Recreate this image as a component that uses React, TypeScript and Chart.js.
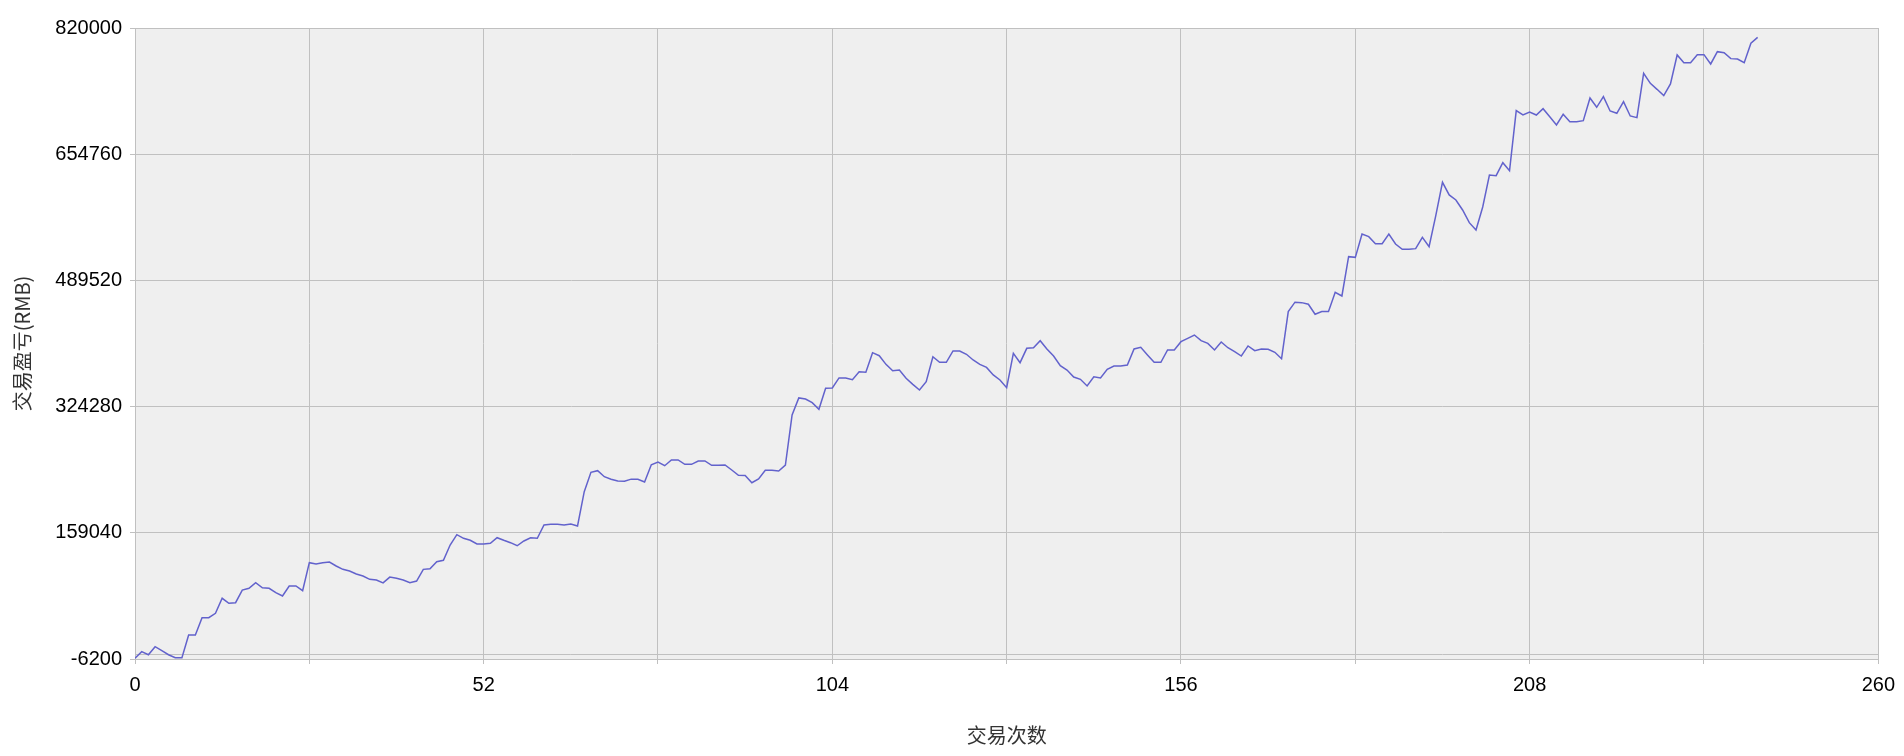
import React, { useEffect, useRef } from "react";
import { Chart, registerables } from "chart.js";

Chart.register(...registerables);

// Cumulative profit/loss after each trade (trade index = position in array)
const profitValues: number[] = [
  -5300, 3400, -600, 9900, 4700, -600, -4500, -4500, 25200, 25200,
  47900, 47900, 53600, 73300, 66700, 67500, 84100, 86400, 93700, 87100,
  86400, 80600, 76300, 89400, 89400, 83200, 119900, 118200, 119900, 120800,
  115600, 111200, 109000, 105100, 102500, 98100, 97200, 93500, 101000, 99400,
  97200, 93700, 95900, 111200, 112000, 121200, 123000, 143000, 156600, 151800,
  149200, 144400, 144400, 145300, 152600, 149200, 146100, 142100, 148300, 152600,
  151800, 169300, 170200, 170200, 169300, 170600, 168000, 212900, 238300, 240400,
  232500, 229100, 226900, 226500, 229300, 229100, 225500, 248200, 251700, 246900,
  254400, 254400, 248700, 248700, 253100, 253100, 247400, 247400, 247800, 241300,
  234300, 234000, 224600, 229500, 240900, 240900, 240000, 247800, 313300, 335600,
  334200, 329400, 320700, 348300, 348700, 361800, 361800, 359500, 370000, 369200,
  394900, 390900, 379600, 371200, 372100, 361300, 353400, 346000, 356900, 389600,
  382300, 382300, 397100, 397100, 392800, 385300, 379600, 375600, 365700, 359100,
  349000, 394100, 381800, 400600, 401400, 410600, 399700, 390500, 377800, 372100,
  363000, 360000, 351300, 363400, 361700, 373100, 377400, 377400, 378700, 399700,
  401900, 391900, 382300, 382300, 398400, 398400, 409300, 413700, 418000, 410600,
  407100, 398400, 408900, 401400, 396200, 390500, 403700, 397500, 399700, 399300,
  395400, 387000, 448700, 461000, 460400, 458300, 445200, 448700, 448700, 473900,
  469100, 520600, 519700, 550300, 546800, 537600, 537600, 550300, 537200, 530200,
  530200, 531100, 546000, 533700, 574300, 618000, 601400, 594800, 581700, 565100,
  555500, 585600, 627500, 626700, 643700, 633200, 711800, 706100, 710000, 706100,
  714400, 703900, 693000, 707000, 697400, 697400, 698700, 728400, 716200, 730200,
  711300, 708300, 723600, 704800, 702600, 760700, 747600, 739700, 731400, 746700,
  784700, 774600, 774600, 785100, 785100, 772900, 789000, 787700, 779900, 779400,
  774600, 800000, 807800,
];

const xMin = 0;
const xMax = 260;
const xGridStep = 26;
const xLabelStep = 52;
const yMin = -6200;
const yMax = 820000;
const yStep = 165240;

const xTitle = "交易次数";
const yTitle = "交易盈亏(RMB)";

const plotBg = "#EFEFEF";
const gridColor = "#C0C0C0";
const lineColor = "#6262CC";

const plotPlugin = {
  id: "plotDecor",
  beforeDraw(chart: any) {
    const { ctx, chartArea } = chart;
    ctx.save();
    ctx.fillStyle = plotBg;
    ctx.fillRect(chartArea.left, chartArea.top, chartArea.right - chartArea.left, chartArea.bottom - chartArea.top);
    ctx.restore();
  },
  beforeDatasetsDraw(chart: any) {
    const { ctx, chartArea, scales } = chart;
    const y0 = Math.round(scales.y.getPixelForValue(0)) + 0.5;
    ctx.save();
    ctx.strokeStyle = gridColor;
    ctx.lineWidth = 1;
    ctx.beginPath();
    ctx.moveTo(chartArea.left, y0);
    ctx.lineTo(chartArea.right, y0);
    ctx.stroke();
    ctx.strokeRect(
      Math.round(chartArea.left) + 0.5,
      Math.round(chartArea.top) + 0.5,
      Math.round(chartArea.right - chartArea.left),
      Math.round(chartArea.bottom - chartArea.top)
    );
    ctx.restore();
  },
};

export default function App() {
  const canvasRef = useRef<HTMLCanvasElement | null>(null);

  useEffect(() => {
    document.body.style.margin = "0";
    const canvas = canvasRef.current;
    if (!canvas) return;
    const points = profitValues.map((v, i) => ({ x: i, y: v }));
    const tickFont = { family: "'Liberation Sans', Arial, sans-serif", size: 20 };
    const titleFont = { family: "'Noto Sans CJK SC', serif", size: 20 };
    const chart = new Chart(canvas, {
      type: "line",
      data: {
        datasets: [
          {
            data: points,
            borderColor: lineColor,
            borderWidth: 1.5,
            pointRadius: 0,
            tension: 0,
            fill: false,
          },
        ],
      },
      options: {
        responsive: false,
        animation: false,
        layout: { padding: { left: 0, top: 28, right: 21, bottom: 0 } },
        plugins: {
          legend: { display: false },
          tooltip: { enabled: false },
        },
        scales: {
          x: {
            type: "linear",
            min: xMin,
            max: xMax,
            afterFit(scale: any) {
              scale.height = 97;
            },
            ticks: {
              stepSize: xGridStep,
              autoSkip: false,
              maxRotation: 0,
              padding: 9,
              color: "#000",
              font: tickFont,
              callback: (v: any) => (Number(v) % xLabelStep === 0 ? String(v) : ""),
            },
            grid: { color: gridColor, tickLength: 5, drawTicks: true },
            border: { color: gridColor },
            title: {
              display: true,
              text: xTitle,
              color: "#333",
              font: titleFont,
              padding: { top: 0, bottom: 9 },
            },
          },
          y: {
            type: "linear",
            min: yMin,
            max: yMax,
            afterFit(scale: any) {
              scale.width = 135;
            },
            ticks: {
              stepSize: yStep,
              padding: 8,
              color: "#000",
              font: tickFont,
              callback: (v: any) => String(Math.round(Number(v))),
            },
            grid: { color: gridColor, tickLength: 5, drawTicks: true },
            border: { color: gridColor },
            title: {
              display: true,
              text: yTitle,
              color: "#333",
              font: titleFont,
              padding: { top: 10, bottom: 0 },
            },
          },
        },
      },
      plugins: [plotPlugin],
    });
    return () => chart.destroy();
  }, []);

  return (
    <canvas
      ref={canvasRef}
      width={1904}
      height={756}
      style={{ display: "block", width: "1904px", height: "756px" }}
    />
  );
}
